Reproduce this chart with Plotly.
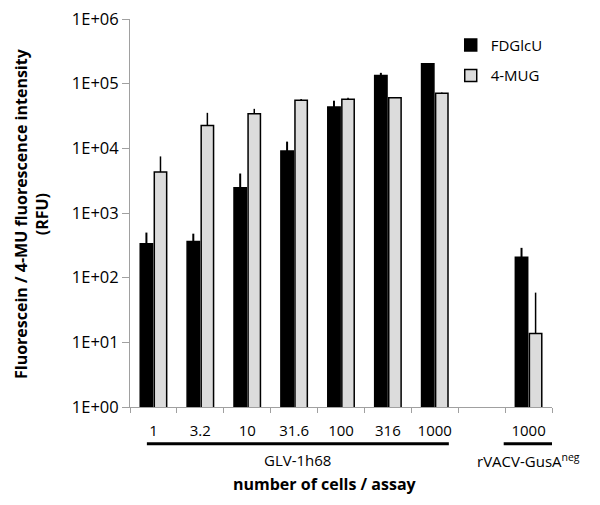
import plotly.graph_objects as go

# ---- data ----
categories = ["1", "3.2", "10", "31.6", "100", "316", "1000", "gap", "1000neg"]
tick_labels = ["1", "3.2", "10", "31.6", "100", "316", "1000", "", "1000"]
fdglcu = [334, 362, 2450, 9100, 43500, 134000, 203000, None, 207]
fdglcu_err = [164, 117, 1630, 3600, 11000, 13000, 5000, 0, 82]
mug = [4300, 22600, 34200, 55300, 57300, 60400, 71000, None, 13.7]
mug_err = [3200, 12800, 6600, 2600, 3100, 2000, 1800, 0, 45]
zeros = [0] * len(categories)

FONT = "Open Sans"

fig = go.Figure()
fig.add_trace(go.Bar(
    x=categories, y=fdglcu, name="FDGlcU", legendgroup="a",
    marker=dict(color="#000000", line=dict(color="#000000", width=1.5)),
    error_y=dict(type="data", symmetric=False, array=fdglcu_err, arrayminus=zeros,
                 color="#000000", thickness=2, width=0),
))
fig.add_trace(go.Bar(
    x=categories, y=mug, name="4-MUG", legendgroup="b",
    marker=dict(color="#dcdcdc", line=dict(color="#000000", width=1.5)),
    error_y=dict(type="data", symmetric=False, array=mug_err, arrayminus=zeros,
                 color="#000000", thickness=1.5, width=0),
))

fig.update_layout(
    width=600, height=505,
    margin=dict(l=122, r=56, t=11, b=106, autoexpand=False),
    plot_bgcolor="white", paper_bgcolor="white",
    barmode="group", bargap=0.40, bargroupgap=0.12,
    font=dict(family=FONT, size=15, color="#000000"),
    showlegend=True,
    legend=dict(x=0.76, y=0.975, xanchor="left", yanchor="top",
                font=dict(family=FONT, size=15), traceorder="grouped",
                tracegroupgap=8, bgcolor="rgba(0,0,0,0)", itemwidth=30),
    xaxis=dict(
        type="category", categoryorder="array", categoryarray=categories,
        tickmode="array", tickvals=categories, ticktext=tick_labels,
        tickson="boundaries", ticks="outside", ticklen=5, tickcolor="#a0a0a0",
        showline=True, linecolor="#a0a0a0", linewidth=1, automargin=False,
        showgrid=False, zeroline=False, ticklabelstandoff=10,
        tickfont=dict(family=FONT, size=15), ticklabeloverflow="allow",
        range=[-0.5, 8.5],
    ),
    yaxis=dict(
        type="log", range=[0, 6], automargin=False,
        tickmode="array", tickvals=[1, 10, 100, 1000, 1e4, 1e5, 1e6],
        ticktext=["1E+00", "1E+01", "1E+02", "1E+03", "1E+04", "1E+05", "1E+06"],
        ticks="outside", ticklen=7, tickcolor="#a0a0a0",
        showline=True, linecolor="#a0a0a0", linewidth=1,
        showgrid=False, zeroline=False, ticklabeloverflow="allow",
        tickfont=dict(family=FONT, size=16.5),
    ),
)

# group underlines
fig.add_shape(type="line", xref="x", yref="paper", x0=-0.14, x1=6.3, y0=-0.095, y1=-0.095,
              line=dict(color="#000000", width=3))
fig.add_shape(type="line", xref="x", yref="paper", x0=7.47, x1=8.52, y0=-0.095, y1=-0.095,
              line=dict(color="#000000", width=3))

fig.add_annotation(text="GLV-1h68", xref="x", yref="paper", x=3.08, y=-0.137,
                   showarrow=False, font=dict(family=FONT, size=15), yanchor="middle")
fig.add_annotation(text="rVACV-GusA<sup>neg</sup>", xref="x", yref="paper", x=8.0, y=-0.137,
                   showarrow=False, font=dict(family=FONT, size=15), yanchor="middle")
fig.add_annotation(text="<b>number of cells / assay</b>", xref="paper", yref="paper",
                   x=0.462, y=-0.198, showarrow=False, yanchor="middle",
                   font=dict(family=FONT, size=16))
fig.add_annotation(text="<b>Fluorescein / 4-MU fluorescence intensity<br>(RFU)</b>",
                   xref="paper", yref="paper", x=-0.2346, y=0.5, textangle=-90,
                   showarrow=False, xanchor="center", yanchor="middle",
                   font=dict(family=FONT, size=16))

fig.write_html("out.html")
